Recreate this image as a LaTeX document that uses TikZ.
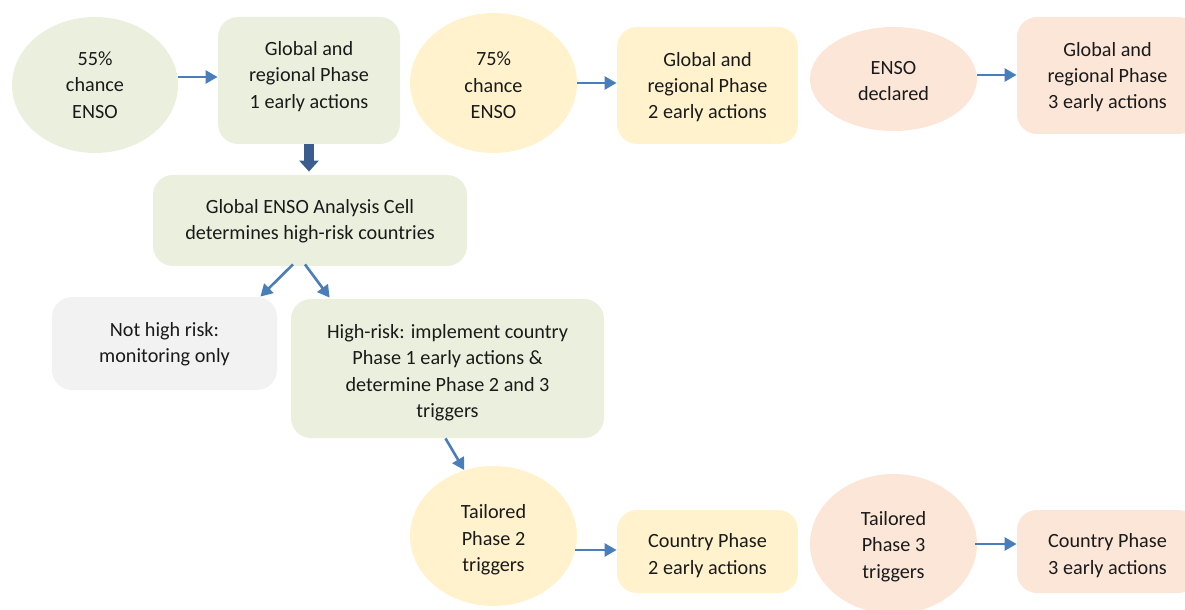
\documentclass[tikz,border=0pt]{standalone}
\usepackage{fontspec}
\setmainfont{Carlito}
\usetikzlibrary{shapes.geometric,arrows.meta}
\definecolor{gfill}{HTML}{EBF0DE}
\definecolor{yfill}{HTML}{FFF2CC}
\definecolor{pfill}{HTML}{FCE6D8}
\definecolor{grfill}{HTML}{F2F2F2}
\definecolor{arrblue}{HTML}{4A7EBB}
\definecolor{darkarr}{HTML}{3A5D8E}
\definecolor{txt}{HTML}{1A1A1A}
\begin{document}
\begin{tikzpicture}[x=0.5pt,y=-0.5pt,
  every node/.style={inner sep=0pt},
  lbl/.style={text=txt,font=\fontsize{10.1}{13.2}\selectfont,align=center},
  oval/.style={ellipse,minimum width=83.5pt,minimum height=70pt},
  rbox/.style={rectangle,rounded corners=10pt},
  arr/.style={draw=arrblue,line width=1.3pt,-{Triangle[length=6pt,width=6.5pt]}},
  bigarr/.style={draw=darkarr,line width=5pt,-{Triangle[length=5.5pt,width=9.5pt]}}]
\useasboundingbox (0,0) rectangle (1185,610);
\begin{scope}
\clip (0,0) rectangle (1185,610);
% top row shapes
\node[oval,fill=gfill,minimum width=83pt,minimum height=68pt] (e55) at (95,85) {};
\node[rbox,fill=gfill,minimum width=91pt,minimum height=63.5pt] (g1) at (309,80.5) {};
\node[oval,fill=yfill] (e75) at (493.5,83) {};
\node[rbox,fill=yfill,minimum width=90.5pt,minimum height=58.5pt] (g2) at (707.5,85.5) {};
\node[oval,fill=pfill,minimum height=52pt] (ed) at (893.5,79) {};
\node[rbox,fill=pfill,minimum width=90.5pt,minimum height=58.5pt] (g3) at (1107.5,75.5) {};
% middle shapes
\node[rbox,fill=gfill,minimum width=157pt,minimum height=45.5pt] (cell) at (310,220.5) {};
\node[rbox,fill=grfill,minimum width=112.5pt,minimum height=46.5pt] (nh) at (164.5,343.5) {};
\node[rbox,fill=gfill,minimum width=156.5pt,minimum height=69.5pt] (hr) at (447.5,368.5) {};
% bottom row shapes
\node[oval,fill=yfill] (t2) at (493.5,536) {};
\node[rbox,fill=yfill,minimum width=90.5pt,minimum height=41.5pt] (c2) at (707.5,551.5) {};
\node[oval,fill=pfill] (t3) at (893.5,544) {};
\node[rbox,fill=pfill,minimum width=90.5pt,minimum height=41.5pt] (c3) at (1107.5,551.5) {};
% texts
\node[lbl] (e55t) at ([yshift=0pt]e55.center) {55\%\\chance\\ENSO};
\node[lbl] (g1t) at ([yshift=2pt]g1.center) {Global and\\regional Phase\\1 early actions};
\node[lbl] (e75t) at ([yshift=-1.2pt]e75.center) {75\%\\chance\\ENSO};
\node[lbl] (g2t) at ([yshift=-0.8pt]g2.center) {Global and\\regional Phase\\2 early actions};
\node[lbl] (edt) at ([yshift=-1pt]ed.center) {ENSO\\declared};
\node[lbl] (g3t) at ([yshift=-0.8pt]g3.center) {Global and\\regional Phase\\3 early actions};
\node[lbl] (cellt) at ([yshift=-0.5pt]cell.center) {Global ENSO Analysis Cell\\determines high-risk countries};
\node[lbl] (nht) at ([yshift=-0.5pt]nh.center) {Not high risk:\\monitoring only};
\node[lbl] (hrt) at ([yshift=-2.2pt]hr.center) {High-risk: implement country\\Phase 1 early actions \&\\determine Phase 2 and 3\\triggers};
\node[lbl] (t2t) at ([yshift=-2pt]t2.center) {Tailored\\Phase 2\\triggers};
\node[lbl] (c2t) at ([yshift=-2pt]c2.center) {Country Phase\\2 early actions};
\node[lbl] (t3t) at ([yshift=-1.2pt]t3.center) {Tailored\\Phase 3\\triggers};
\node[lbl] (c3t) at ([yshift=-2pt]c3.center) {Country Phase\\3 early actions};
% connectors
\draw[arr] ([yshift=4pt]e55.east) -- ([yshift=4pt]e55.east -| g1.west);
\draw[arr] (e75.east) -- (e75.east -| g2.west);
\draw[arr] ([yshift=2pt]ed.east) -- ([yshift=2pt]ed.east -| g3.west);
\draw[bigarr,shorten >=1.5pt] (g1.south) -- (g1.south |- cell.north);
\draw[arr] ([xshift=-8.5pt,yshift=1pt]cell.south) -- ([xshift=-8.5pt]nh.north east);
\draw[arr] ([xshift=-2.5pt,yshift=1pt]cell.south) -- ([xshift=19.5pt,yshift=0.5pt]hr.north west);
\draw[arr] ([xshift=-1pt]hr.south) -- (t2.114);
\draw[arr] ([yshift=-7pt,xshift=-1pt]t2.east) -- ([yshift=-7pt]t2.east -| c2.west);
\draw[arr] ([xshift=-1pt]t3.east) -- (t3.east -| c3.west);
\end{scope}
\end{tikzpicture}
\end{document}
